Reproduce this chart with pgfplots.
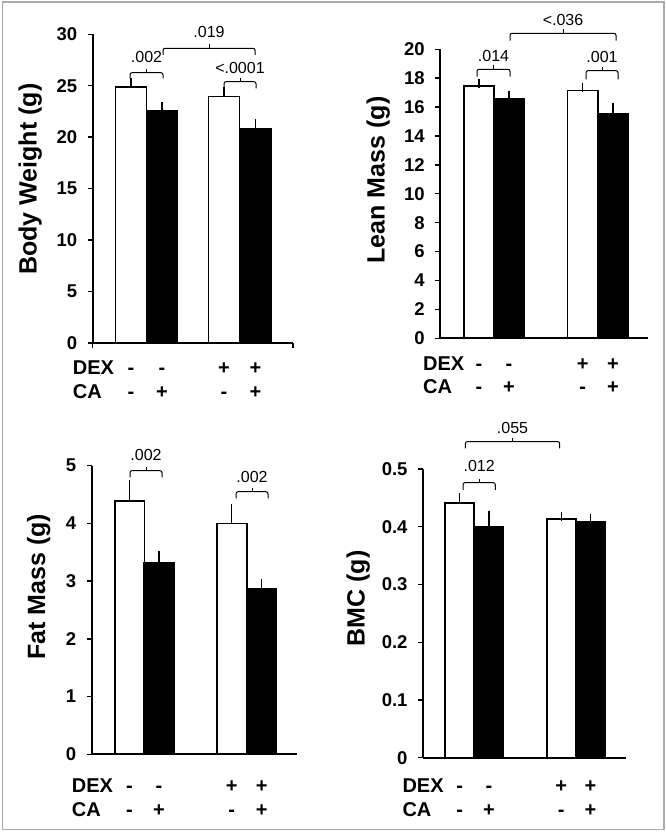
\documentclass[border=0pt]{standalone}
\usepackage{fontspec}
\setmainfont{Liberation Sans}
\usepackage{pgfplots}
\pgfplotsset{compat=1.18}
\definecolor{framegray}{RGB}{170,170,170}
\newcommand{\tk}{\fontsize{18.5}{18.5}\selectfont\bfseries}
\newcommand{\lb}{\fontsize{25}{25}\selectfont\bfseries}
\newcommand{\sg}{\fontsize{20}{20}\selectfont\bfseries}
\newcommand{\pv}{\fontsize{16}{16}\selectfont}
\newcommand{\brk}[6]{%
  \draw[line width=1pt, rounded corners=2pt] (#1,#4) -- (#1,#3) -- (#2,#3) -- (#2,#4);
  \draw[line width=1pt] ({(#1+#2)/2},#3) -- ({(#1+#2)/2},#3+4);
  \node[anchor=base, font=\pv, inner sep=0pt] at ({(#1+#2)/2},#6) {#5};}
\newcommand{\signs}[8]{% xDEXlabel yDEX yCA x1 x2 x3 x4 unused
  \node[anchor=base west, font=\sg, inner sep=0pt] at (#1,#2) {DEX};
  \node[anchor=base west, font=\sg, inner sep=0pt] at (#1,#3) {CA};
  \node[anchor=base, font=\sg, inner sep=0pt] at (#4,#2) {-};
  \node[anchor=base, font=\sg, inner sep=0pt] at (#5,#2) {-};
  \node[anchor=base, font=\sg, inner sep=0pt] at (#6,#2) {+};
  \node[anchor=base, font=\sg, inner sep=0pt] at (#7,#2) {+};
  \node[anchor=base, font=\sg, inner sep=0pt] at (#4,#3) {-};
  \node[anchor=base, font=\sg, inner sep=0pt] at (#5,#3) {+};
  \node[anchor=base, font=\sg, inner sep=0pt] at (#6,#3) {-};
  \node[anchor=base, font=\sg, inner sep=0pt] at (#7,#3) {+};}
\pgfplotsset{
  panel/.style={
    scale only axis, anchor=south west, clip=false,
    axis x line*=bottom, axis y line*=left,
    axis line style={line width=1.8pt, black},
    ymin=0, xtick=\empty,
    tick align=outside, major tick length=5pt,
    every tick/.style={line width=1.4pt, black},
    yticklabel style={font=\tk, xshift=-7pt},
    /pgf/number format/assume math mode=true,
  },
  wbar/.style={ybar, bar width=#1, fill=white, draw=black, line width=1.7pt,
    error bars/.cd, y dir=plus, y explicit,
    error bar style={line width=1.3pt, black},
    error mark options={line width=1.3pt, mark size=4.5pt, black}},
  bbar/.style={ybar, bar width=#1, fill=black, draw=black, line width=1.7pt,
    error bars/.cd, y dir=plus, y explicit,
    error bar style={line width=1.3pt, black},
    error mark options={line width=1.3pt, mark size=4.5pt, black}},
}
\begin{document}
\begin{tikzpicture}[x=1pt,y=1pt]
\useasboundingbox (0,0) rectangle (666,835);
\draw[framegray, line width=1.5pt] (2.5,5.5) rectangle (664,833);

% Panel 1: Body Weight
\begin{axis}[panel, at={(92.7pt,492pt)}, width=200.3pt, height=308.7pt,
  xmin=92.7, xmax=293, ymax=30, ytick={0,5,10,15,20,25,30},
  xtick={92.7,293}, xticklabels={}]
\addplot[wbar=31] coordinates {(131,24.85) +- (0,0.46) (224,23.96) +- (0,0.48)};
\addplot[bbar=31] coordinates {(162,22.6) +- (0,0.39) (255.5,20.79) +- (0,0.51)};
\end{axis}

% Panel 2: Lean Mass
\begin{axis}[panel, at={(440.3pt,496.7pt)}, width=207.7pt, height=289pt,
  xmin=440.3, xmax=648, ymax=20, ytick={0,2,4,6,8,10,12,14,16,18,20}]
\addplot[wbar=30.3] coordinates {(478.9,17.46) +- (0,0.14) (582.7,17.14) +- (0,0.25)};
\addplot[bbar=30.3] coordinates {(509,16.56) +- (0,0.26) (613,15.52) +- (0,0.42)};
\end{axis}

% Panel 3: Fat Mass
\begin{axis}[panel, at={(91.7pt,80.7pt)}, width=205pt, height=288.6pt,
  xmin=91.7, xmax=296.7, ymax=5, ytick={0,1,2,3,4,5}]
\addplot[wbar=29.7] coordinates {(129.5,4.39) +- (0,0.28) (231.8,4.0) +- (0,0.25)};
\addplot[bbar=29.7] coordinates {(159,3.31) +- (0,0.13) (261.7,2.86) +- (0,0.10)};
\end{axis}

% Panel 4: BMC
\begin{axis}[panel, at={(423pt,77.3pt)}, width=203pt, height=288.7pt,
  xmin=423, xmax=626, ymax=0.5, ytick={0,0.1,0.2,0.3,0.4,0.5}]
\addplot[wbar=29.2] coordinates {(459.7,0.441) +- (0,0.009) (561.3,0.413) +- (0,0.004)};
\addplot[bbar=29.2] coordinates {(489,0.400) +- (0,0.020) (590.5,0.408) +- (0,0.006)};
\end{axis}

% y labels
\node[rotate=90, anchor=base, font=\lb, inner sep=0pt] at (36.7,655.8) {Body Weight (g)};
\node[rotate=90, anchor=base, font=\lb, inner sep=0pt] at (384.7,655) {Lean Mass (g)};
\node[rotate=90, anchor=base, font=\lb, inner sep=0pt] at (45,248.3) {Fat Mass (g)};
\node[rotate=90, anchor=base, font=\lb, inner sep=0pt] at (364.7,236.7) {BMC (g)};

% DEX / CA rows
\signs{72.7}{460}{436.7}{131}{162}{224}{255.5}{}
\signs{423}{464.3}{441}{478.9}{509}{582.7}{613}{}
\signs{71.7}{42.3}{19}{129.5}{159}{231.8}{261.7}{}
\signs{402.3}{42.3}{19}{459.7}{489}{561.3}{590.5}{}

% significance brackets
\brk{130}{163}{762.3}{756.7}{.002}{772.7}
\brk{163}{255}{786.7}{780}{.019}{797.7}
\brk{224}{256}{753.3}{746.7}{<.0001}{761}
\brk{477}{510}{765.7}{758.3}{.014}{773.3}
\brk{510}{616}{801.7}{794.3}{<.036}{809}
\brk{586}{618}{764.3}{755.7}{.001}{772.3}
\brk{130}{162}{364.3}{357.7}{.002}{374.3}
\brk{236}{268}{343.3}{336.7}{.002}{352}
\brk{463}{495.3}{352.3}{345}{.012}{363.3}
\brk{465.3}{559.7}{393.3}{386.7}{.055}{401.7}
\end{tikzpicture}
\end{document}
